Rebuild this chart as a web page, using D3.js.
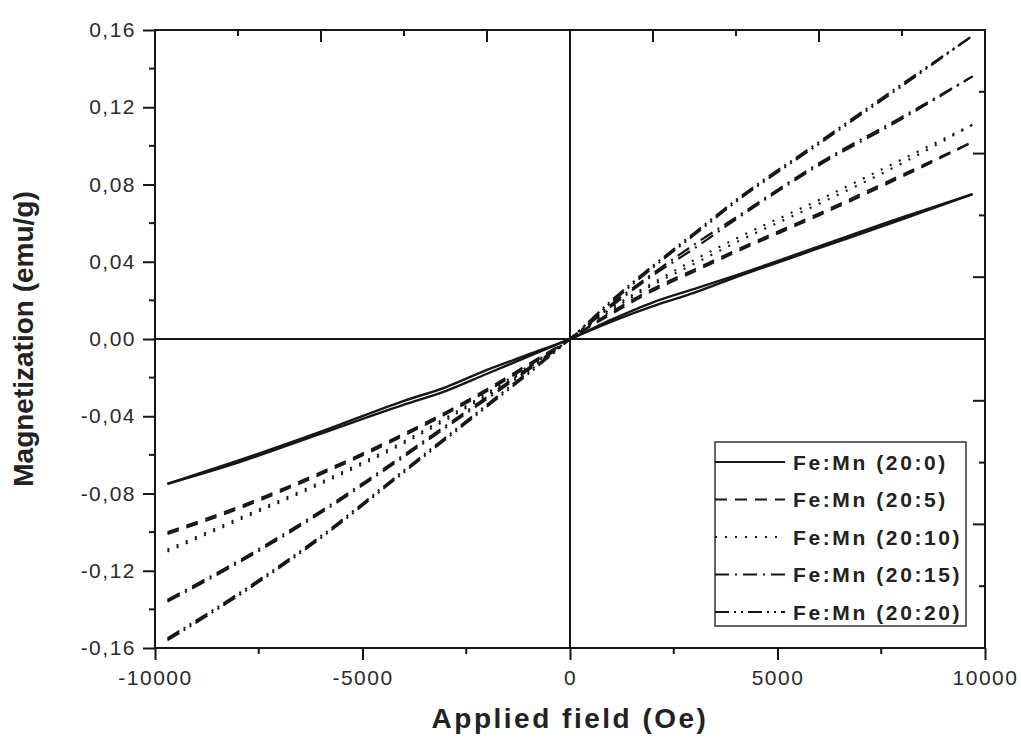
<!DOCTYPE html>
<html>
<head>
<meta charset="utf-8">
<script src="https://cdn.jsdelivr.net/npm/d3@7"></script>
<style>
  body { margin: 0; background: #fff; }
  svg { font-family: "Liberation Sans", Arial, sans-serif; }
</style>
</head>
<body>
<div id="chart"></div>
<script>
// field values (Oe) shared by every branch
var fields = [-9700, -8000, -6000, -4000, -3000, -2000, -1000, 0, 1000, 2000, 3000, 4000, 6000, 8000, 9700]

// magnetization (emu/g), sweep up and sweep down for each sample
var m20_0_up = [-0.075, -0.064, -0.049, -0.034, -0.027, -0.018, -0.009, 0, 0.009, 0.017, 0.024, 0.032, 0.047, 0.062, 0.075]
var m20_0_dn = [-0.075, -0.063, -0.048, -0.032, -0.025, -0.016, -0.008, 0, 0.010, 0.019, 0.026, 0.033, 0.048, 0.063, 0.075]
var m20_5_up = [-0.101, -0.088, -0.070, -0.050, -0.039, -0.027, -0.014, 0, 0.013, 0.025, 0.035, 0.045, 0.064, 0.084, 0.102]
var m20_5_dn = [-0.100, -0.087, -0.069, -0.049, -0.038, -0.026, -0.013, 0, 0.014, 0.026, 0.036, 0.046, 0.065, 0.085, 0.102]
var m20_10_up = [-0.110, -0.094, -0.075, -0.054, -0.042, -0.029, -0.015, 0, 0.015, 0.028, 0.039, 0.050, 0.070, 0.091, 0.111]
var m20_10_dn = [-0.109, -0.093, -0.074, -0.053, -0.041, -0.028, -0.014, 0, 0.016, 0.029, 0.041, 0.052, 0.072, 0.093, 0.111]
var m20_15_up = [-0.136, -0.116, -0.090, -0.061, -0.046, -0.031, -0.016, 0, 0.017, 0.033, 0.047, 0.062, 0.090, 0.114, 0.136]
var m20_15_dn = [-0.135, -0.115, -0.089, -0.060, -0.045, -0.030, -0.015, 0, 0.018, 0.034, 0.049, 0.063, 0.091, 0.115, 0.136]
var m20_20_up = [-0.156, -0.133, -0.103, -0.069, -0.052, -0.035, -0.018, 0, 0.019, 0.037, 0.054, 0.071, 0.101, 0.131, 0.157]
var m20_20_dn = [-0.155, -0.132, -0.102, -0.068, -0.051, -0.034, -0.017, 0, 0.020, 0.038, 0.055, 0.072, 0.102, 0.132, 0.157]

var seriesNames = ['Fe:Mn (20:0)', 'Fe:Mn (20:5)', 'Fe:Mn (20:10)', 'Fe:Mn (20:15)', 'Fe:Mn (20:20)']
var seriesUp = [m20_0_up, m20_5_up, m20_10_up, m20_15_up, m20_20_up]
var seriesDown = [m20_0_dn, m20_5_dn, m20_10_dn, m20_15_dn, m20_20_dn]
var dashes = [null, '12,8', '2,8', '14,6,2,6', '14,5,2,5,2,5']

var xTicks = [-10000, -5000, 0, 5000, 10000]
var yTicks = [-0.16, -0.12, -0.08, -0.04, 0, 0.04, 0.08, 0.12, 0.16]

// Set the dimensions of the canvas / graph
var margin = { top: 30, right: 36, bottom: 92, left: 155 },
  width = 1021 - margin.left - margin.right,
  height = 740 - margin.top - margin.bottom

var svg = d3
  .select('#chart')
  .append('svg')
  .attr('width', 1021)
  .attr('height', 740)
  .append('g')
  .attr('transform', 'translate(' + margin.left + ',' + margin.top + ')')

var x = d3.scaleLinear().domain([-10000, 10000]).range([0, width])
var y = d3.scaleLinear().domain([-0.16, 0.16]).range([height, 0])

// comma as decimal separator, plain hyphen for minus
var locale = d3.formatLocale({ decimal: ',', thousands: '', grouping: [3], currency: ['', ''], minus: '-' })
var fmtY = locale.format('.2f')
var fmtX = locale.format('d')

var ink = '#161616'

// zero lines
svg.append('line').attr('x1', x(0)).attr('x2', x(0)).attr('y1', 0).attr('y2', height)
  .attr('stroke', ink).attr('stroke-width', 2)
svg.append('line').attr('x1', 0).attr('x2', width).attr('y1', y(0)).attr('y2', y(0))
  .attr('stroke', ink).attr('stroke-width', 2)

// data lines
var line = d3.line()
  .x(function (d) { return x(d[0]) })
  .y(function (d) { return y(d[1]) })
  .curve(d3.curveMonotoneX)

seriesNames.forEach(function (name, i) {
  ;[seriesUp[i], seriesDown[i]].forEach(function (vals) {
    var pts = fields.map(function (f, j) { return [f, vals[j]] })
    svg.append('path')
      .datum(pts)
      .attr('d', line)
      .attr('fill', 'none')
      .attr('stroke', ink)
      .attr('stroke-width', i === 0 ? 2.4 : 2.2)
      .attr('stroke-dasharray', dashes[i])
  })
})

// bottom axis (outward ticks, minor every 2500)
var xAxis = svg.append('g')
  .attr('transform', 'translate(0,' + height + ')')
  .call(d3.axisBottom(x).tickValues(xTicks).tickSize(12).tickPadding(10).tickFormat(fmtX))
xAxis.append('g').selectAll('line')
  .data([-7500, -2500, 2500, 7500]).enter().append('line')
  .attr('x1', x).attr('x2', x).attr('y1', 0).attr('y2', 6)

// left axis (outward ticks, minor every 0.02)
var yAxis = svg.append('g')
  .call(d3.axisLeft(y).tickValues(yTicks).tickSize(12).tickPadding(7).tickFormat(fmtY))
yAxis.append('g').selectAll('line')
  .data([-0.14, -0.10, -0.06, -0.02, 0.02, 0.06, 0.10, 0.14]).enter().append('line')
  .attr('y1', y).attr('y2', y).attr('x1', 0).attr('x2', -6)

// top and right: inward ticks with ten divisions
var topTicks = d3.range(1, 10).map(function (k) { return -10000 + k * 2000 })
svg.append('g').selectAll('line')
  .data(topTicks).enter().append('line')
  .attr('x1', x).attr('x2', x).attr('y1', 0)
  .attr('y2', function (d, k) { return k % 2 === 0 ? 6 : 12 })
var rightTicks = d3.range(1, 10).map(function (k) { return 0.16 - k * 0.032 })
svg.append('g').selectAll('line')
  .data(rightTicks).enter().append('line')
  .attr('y1', y).attr('y2', y).attr('x1', width)
  .attr('x2', function (d, k) { return width - (k % 2 === 0 ? 6 : 12) })

// frame
svg.append('rect').attr('width', width).attr('height', height)
  .attr('fill', 'none').attr('stroke', ink).attr('stroke-width', 2)

svg.selectAll('.domain').remove()
svg.selectAll('g line').attr('stroke', ink).attr('stroke-width', 2)
svg.selectAll('.tick text').attr('font-size', 21).attr('letter-spacing', 1.5).attr('fill', '#2a2a2a')

// axis titles
svg.append('text')
  .attr('x', width / 2).attr('y', height + 80)
  .attr('text-anchor', 'middle')
  .attr('font-size', 28).attr('font-weight', 'bold').attr('letter-spacing', 2.5).attr('fill', '#222')
  .text('Applied field (Oe)')
svg.append('text')
  .attr('transform', 'translate(' + (-122) + ',' + height / 2 + ') rotate(-90)')
  .attr('text-anchor', 'middle')
  .attr('font-size', 28).attr('font-weight', 'bold').attr('fill', '#222')
  .text('Magnetization (emu/g)')

// legend
var lg = svg.append('g').attr('transform', 'translate(' + (715 - margin.left) + ',' + (442 - margin.top) + ')')
lg.append('rect').attr('width', 251).attr('height', 184)
  .attr('fill', '#fff').attr('stroke', '#333').attr('stroke-width', 1.5)
seriesNames.forEach(function (name, i) {
  var ly = 20 + i * 37.5
  lg.append('line').attr('x1', 0).attr('x2', 70).attr('y1', ly).attr('y2', ly)
    .attr('stroke', ink).attr('stroke-width', 2.2).attr('stroke-dasharray', dashes[i])
  lg.append('text').attr('x', 78).attr('y', ly).attr('dy', '0.36em')
    .attr('font-size', 21).attr('font-weight', 'bold').attr('letter-spacing', 2.6).attr('fill', '#222')
    .text(name)
})
</script>
</body>
</html>
